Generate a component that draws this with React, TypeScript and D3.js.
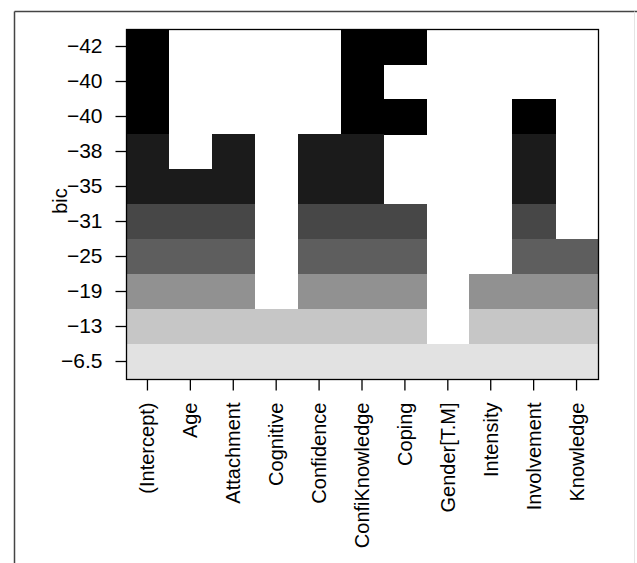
import { axisBottom, axisLeft, scaleBand, scaleQuantize, select, gray } from "d3";
import { useEffect, useRef } from "react";

// model variables (columns)
const variables = [
  "(Intercept)",
  "Age",
  "Attachment",
  "Cognitive",
  "Confidence",
  "ConfiKnowledge",
  "Coping",
  "Gender[T.M]",
  "Intensity",
  "Involvement",
  "Knowledge",
];

// bic of each model, best on top
const bic = [-42, -40, -40, -38, -35, -31, -25, -19, -13, -6.5];
const bicLabels = ["\u221242", "\u221240", "\u221240", "\u221238", "\u221235", "\u221231", "\u221225", "\u221219", "\u221213", "\u22126.5"];

// 1 = variable in the model
const included = [
  [1, 0, 0, 0, 0, 1, 1, 0, 0, 0, 0],
  [1, 0, 0, 0, 0, 1, 0, 0, 0, 0, 0],
  [1, 0, 0, 0, 0, 1, 1, 0, 0, 1, 0],
  [1, 0, 1, 0, 1, 1, 0, 0, 0, 1, 0],
  [1, 1, 1, 0, 1, 1, 0, 0, 0, 1, 0],
  [1, 1, 1, 0, 1, 1, 1, 0, 0, 1, 0],
  [1, 1, 1, 0, 1, 1, 1, 0, 0, 1, 1],
  [1, 1, 1, 0, 1, 1, 1, 0, 1, 1, 1],
  [1, 1, 1, 1, 1, 1, 1, 0, 1, 1, 1],
  [1, 1, 1, 1, 1, 1, 1, 1, 1, 1, 1],
];

const W = 637;
const H = 563;
const left = 126;
const right = 598;
const top = 29;
const bottom = 379;
const font = "'Liberation Sans', Arial, Helvetica, sans-serif";

function App() {
  const svgRef = useRef(null);

  useEffect(() => {
    if (!svgRef.current) return;
    const svg = select(svgRef.current);
    svg.selectAll("*").remove();

    svg.append("rect").attr("width", W).attr("height", H).attr("fill", "#fff");

    // outer figure frame
    svg.append("line").attr("x1", 14.5).attr("x2", W).attr("y1", 11.5).attr("y2", 11.5)
      .attr("stroke", "#444").attr("stroke-width", 1.5);
    svg.append("line").attr("x1", 14.5).attr("x2", 14.5).attr("y1", 11.5).attr("y2", H)
      .attr("stroke", "#444").attr("stroke-width", 1.5);
    svg.append("line").attr("x1", 634.5).attr("x2", 634.5).attr("y1", 11.5).attr("y2", H)
      .attr("stroke", "#e4e4e4").attr("stroke-width", 1);

    const x = scaleBand().domain(variables.map((v, i) => i)).range([left, right]);
    const y = scaleBand().domain(bic.map((v, i) => i)).range([top, bottom]);

    const levels = bic.map((v, i) => gray(90 * i / 9).formatHex());
    const color = scaleQuantize().domain([Math.min(...bic), Math.max(...bic)]).range(levels);

    const cells = [];
    included.forEach((row, r) => {
      row.forEach((inc, c) => {
        if (inc) cells.push({ r, c });
      });
    });

    svg.append("g")
      .selectAll("rect")
      .data(cells)
      .join("rect")
      .attr("x", (d) => x(d.c))
      .attr("y", (d) => y(d.r))
      .attr("width", x.bandwidth() + 0.5)
      .attr("height", y.bandwidth() + 0.5)
      .attr("fill", (d) => color(bic[d.r]))
      .attr("shape-rendering", "crispEdges");

    svg.append("rect")
      .attr("x", left + 0.5)
      .attr("y", top + 0.5)
      .attr("width", right - left)
      .attr("height", bottom - top)
      .attr("fill", "none")
      .attr("stroke", "#000")
      .attr("stroke-width", 1.3);

    const yAxis = axisLeft(y).tickSize(11).tickPadding(13).tickFormat((i) => bicLabels[i]);
    const gy = svg.append("g").attr("transform", `translate(${left + 0.5},0)`).call(yAxis);
    gy.select(".domain").remove();
    gy.selectAll("line").attr("stroke-width", 1.3);
    gy.selectAll("text").attr("font-family", font).attr("font-size", 21).attr("fill", "#000");

    const xAxis = axisBottom(x).tickSize(11).tickFormat((i) => variables[i]);
    const gx = svg.append("g").attr("transform", `translate(0,${bottom + 0.5})`).call(xAxis);
    gx.select(".domain").remove();
    gx.selectAll("line").attr("stroke-width", 1.3);
    gx.selectAll("text")
      .attr("font-family", font)
      .attr("font-size", 20)
      .attr("fill", "#000")
      .attr("transform", "rotate(-90)")
      .attr("text-anchor", "end")
      .attr("x", -23)
      .attr("y", 0)
      .attr("dy", "0.35em");

    svg.append("text")
      .attr("transform", `translate(67,201) rotate(-90)`)
      .attr("text-anchor", "middle")
      .attr("font-family", font)
      .attr("font-size", 20)
      .text("bic");
  }, []);

  return (
    <div style={{ position: "absolute", left: 0, top: 0 }}>
      <svg ref={svgRef} width={W} height={H} style={{ display: "block" }}></svg>
    </div>
  );
}

export default App;
